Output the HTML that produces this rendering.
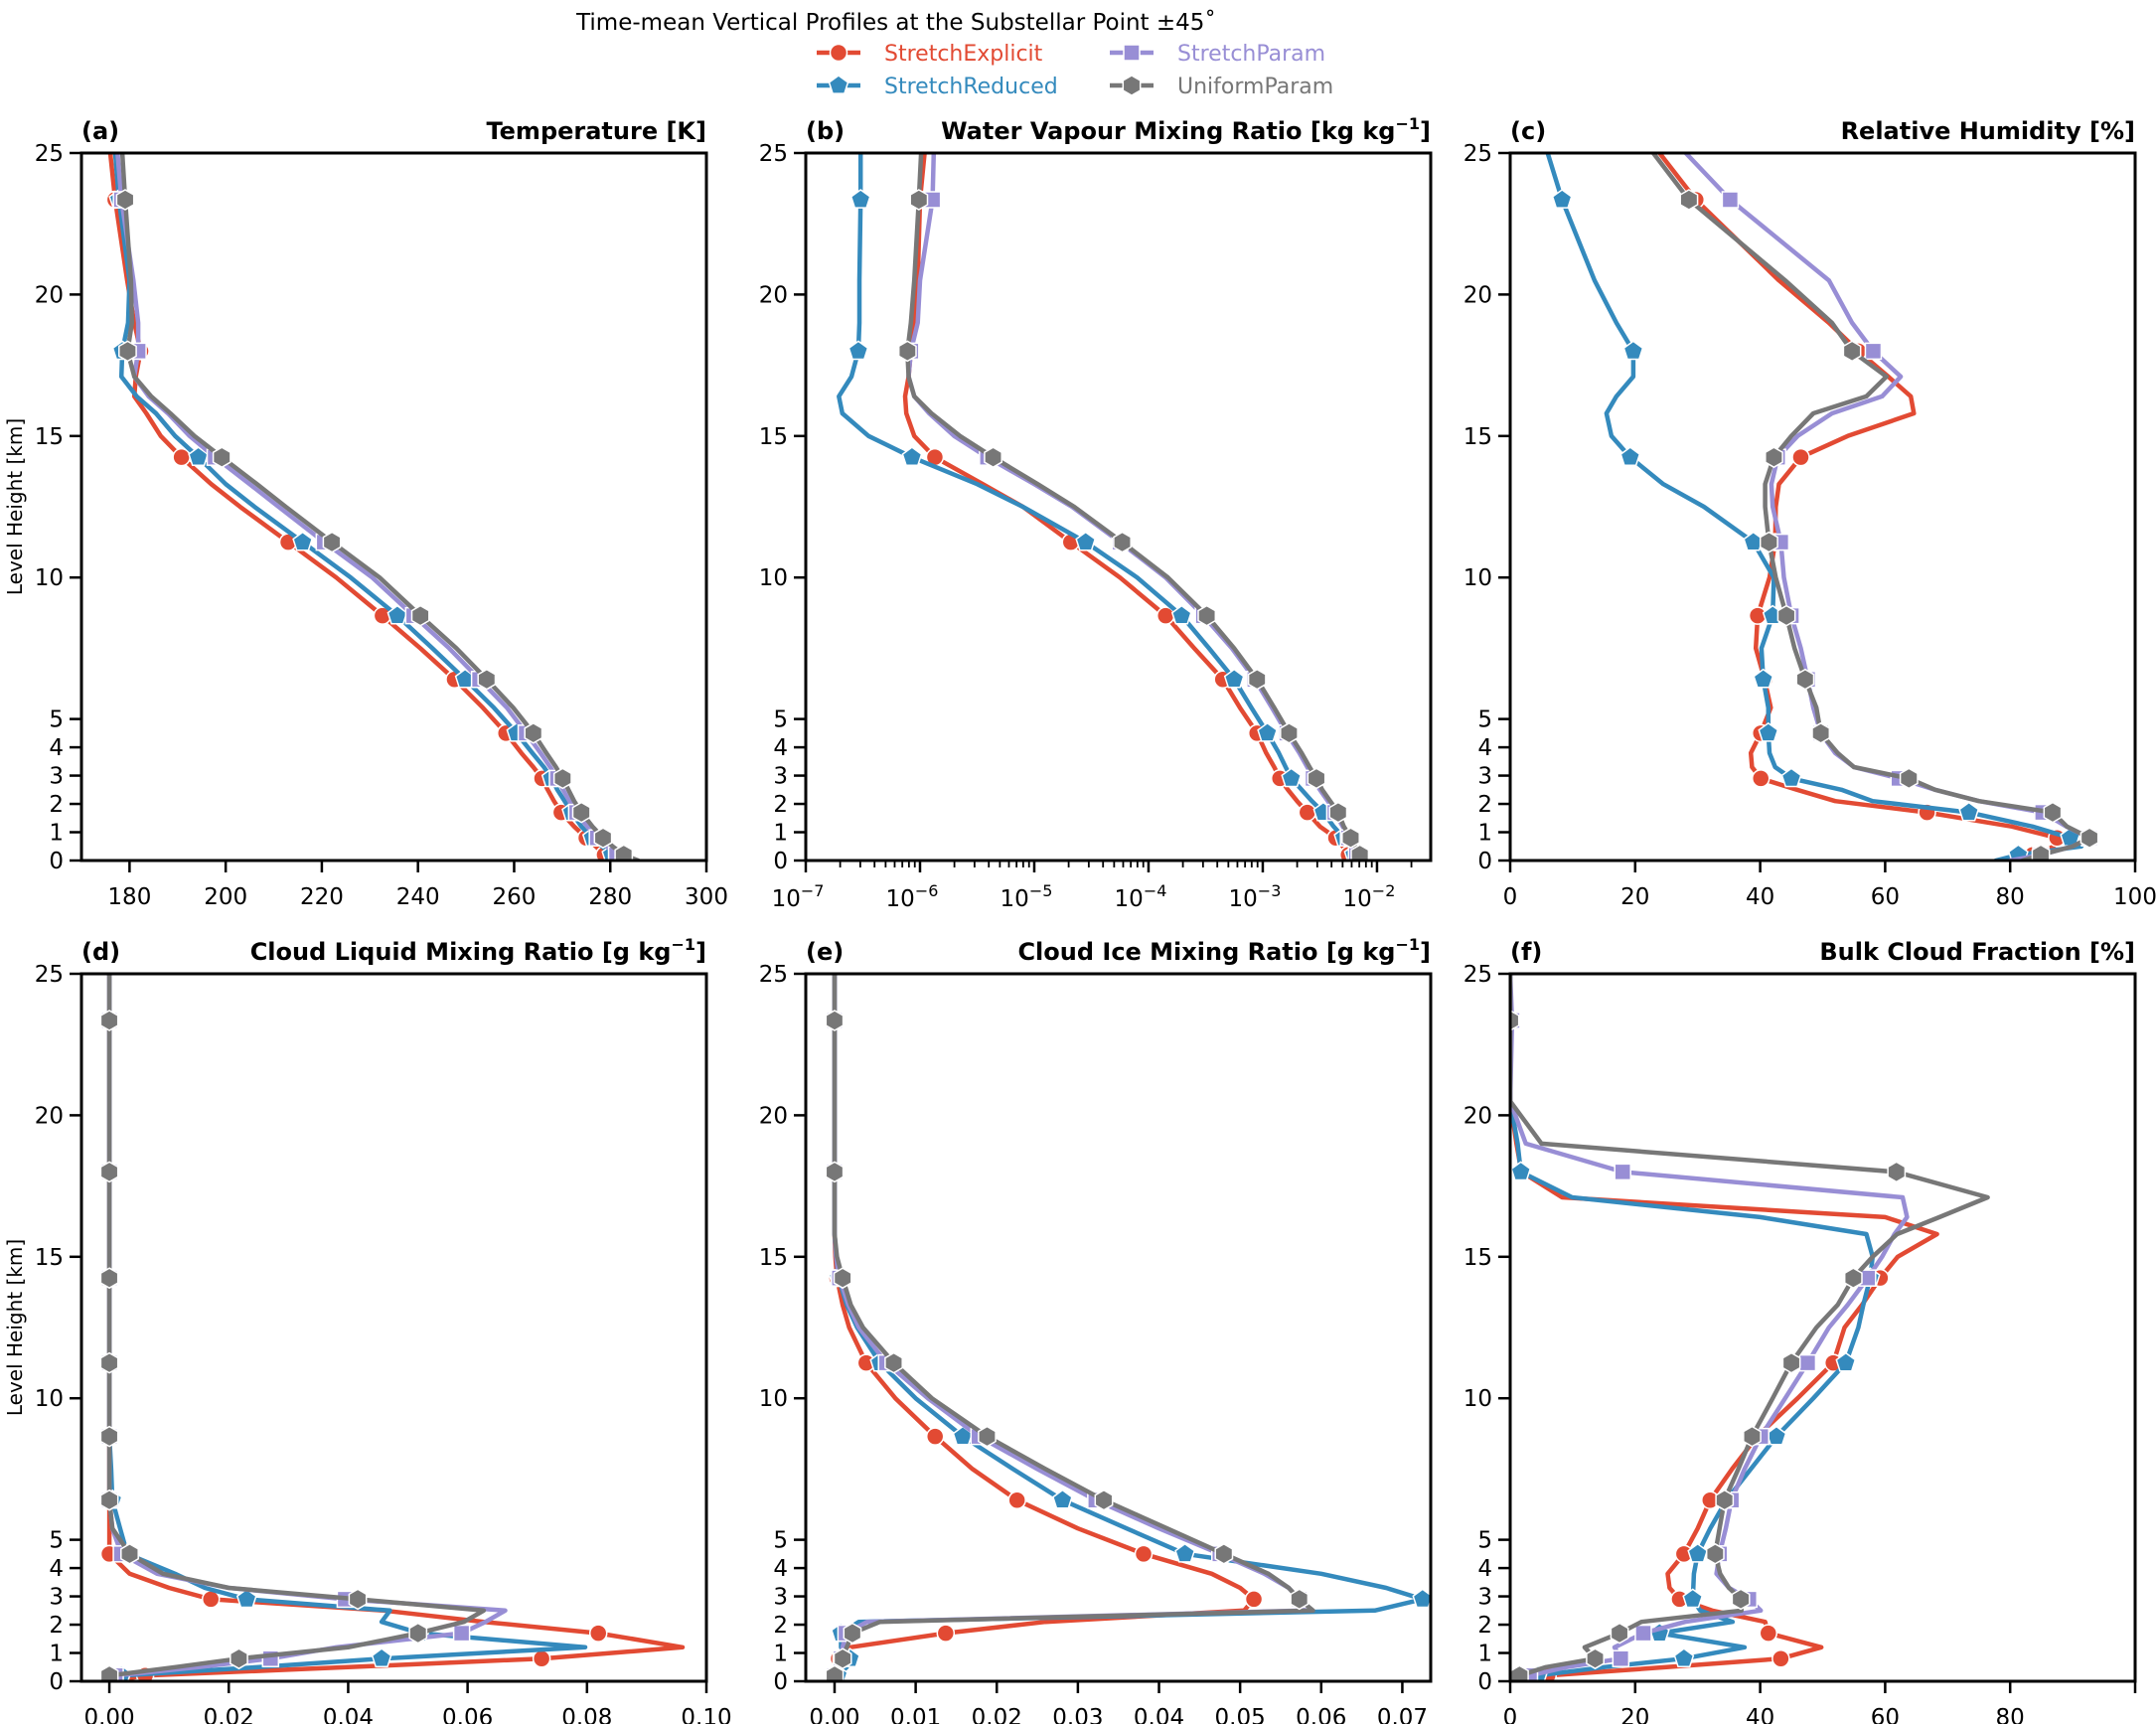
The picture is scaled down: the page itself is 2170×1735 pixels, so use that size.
<!DOCTYPE html>
<html><head><meta charset="utf-8"><style>
html,body{margin:0;padding:0;background:#fff;}
svg{display:block;font-family:"DejaVu Sans","Liberation Sans",sans-serif;}
</style></head><body>
<svg id="fig" width="2170" height="1735" viewBox="0 0 2170 1735" xmlns="http://www.w3.org/2000/svg">
<rect x="0" y="0" width="2170" height="1735" fill="#fff"/>
<text x="902" y="30" text-anchor="middle" font-size="23" fill="#000">Time-mean Vertical Profiles at the Substellar Point ±45˚</text>
<g id="legend"></g>
<g id="panels"></g>
</svg>
<script>
// shared level heights (km)
const levels = [0,0.2,0.5,0.8,1.2,1.7,2.1,2.5,2.9,3.3,3.8,4.5,5.4,6.4,7.5,8.65,10,11.25,12.5,13.3,14.25,15.0,15.8,16.4,17.1,18.0,19.0,20.5,23.35,25];
const markerIdx = [1,3,5,8,11,13,15,17,20,25,28];
const seriesNames = ["StretchExplicit","StretchReduced","StretchParam","UniformParam"];
const seriesColors = ["#E24A33","#348ABD","#988ED5","#777777"];
const seriesMarkers = ["circle","pentagon","square","hexagon"];
const yTicks = [0,1,2,3,4,5,10,15,20,25];

// (a) temperature [K]
const tempRed = [279.3,278.8,277,275,272.5,269.8,268.3,267,265.8,264,261.5,258.3,253.5,247.6,240.5,232.6,223,213,203,197,190.8,186.5,183.5,181,181.3,182.3,181,179.5,177,176];
const tempBlue = [281.3,280.3,278.3,276.3,274,272,270.5,269,267.8,266.2,263.8,260.5,255.8,249.8,243,235.7,226,216,206,200,194.3,189.5,185.5,181.5,178.3,178.5,179.7,180,177.8,177];
const tempPurple = [283,281.3,279.3,277.3,275.2,273,271.5,270.2,269,267.5,265.5,262.5,258.5,252.8,246.5,239.1,230.5,220.5,211,205,197.8,192.5,188,184,181,181.8,181.8,180.8,178.3,177.5];
const tempGray = [285.8,282.8,280.5,278.5,276.3,274,272.5,271.3,270.1,268.7,266.7,264,259.8,254.3,248,240.5,232,222.1,212.5,206.5,199.2,193.5,188.5,184.5,181,179.6,180.5,180.3,179.1,178.5];
const tempTicks = [180,200,220,240,260,280,300];

// (b) water vapour mixing ratio, log10 [kg/kg]
const wvRedLog = [-2.2,-2.25,-2.3,-2.36,-2.5,-2.61,-2.7,-2.78,-2.85,-2.9,-2.97,-3.05,-3.2,-3.35,-3.6,-3.85,-4.25,-4.68,-5.1,-5.45,-5.87,-6.05,-6.12,-6.13,-6.1,-6.08,-6.05,-6.02,-6.0,-5.96];
const wvBlueLog = [-2.17,-2.2,-2.24,-2.29,-2.38,-2.47,-2.57,-2.66,-2.75,-2.8,-2.86,-2.96,-3.1,-3.25,-3.47,-3.71,-4.1,-4.55,-5.1,-5.5,-6.07,-6.45,-6.68,-6.71,-6.6,-6.54,-6.53,-6.53,-6.52,-6.52];
const wvPurpleLog = [-2.14,-2.18,-2.21,-2.25,-2.3,-2.37,-2.43,-2.5,-2.56,-2.61,-2.68,-2.79,-2.92,-3.07,-3.27,-3.52,-3.85,-4.25,-4.67,-5.0,-5.41,-5.7,-5.92,-6.05,-6.1,-6.08,-6.02,-6.0,-5.89,-5.88];
const wvGrayLog = [-2.12,-2.15,-2.19,-2.23,-2.29,-2.34,-2.41,-2.48,-2.53,-2.59,-2.66,-2.77,-2.9,-3.05,-3.25,-3.49,-3.83,-4.23,-4.65,-4.97,-5.36,-5.65,-5.9,-6.05,-6.1,-6.11,-6.08,-6.05,-6.01,-5.99];
const wvTickExp = [-7,-6,-5,-4,-3,-2];

// (c) relative humidity [%]
const rhRed = [80,83.6,87,87.5,80.3,66.7,52,45.9,40.1,38.7,38.5,40.1,41.7,40.7,39.3,39.6,41.5,42.4,42.5,43,46.5,54,64.6,64.1,60.5,55.7,51,43,29.7,23.9];
const rhBlue = [77.7,81.3,91.4,89.6,83.6,73.4,58,53,45,42.4,41.5,41.3,41.3,40.5,40.2,42,42.2,38.9,31,24.5,19.2,16.2,15.4,17,19.7,19.7,17,13.5,8.3,6.0];
const rhPurple = [80,84.9,90,92.7,89,85.2,75,68,62.2,55,52,49.7,48.5,47.6,46.5,45,43.8,43.3,42,41.8,42.8,46,51.5,59.5,62.5,58.1,54.7,51,35.2,28.1];
const rhGray = [82,84.9,90,92.7,89.1,86.8,75,68,63.8,55,52.4,49.7,49,47.2,45.5,44.2,42.5,41.4,40.8,40.8,42.2,45,48.5,57,60.2,54.7,51.5,44,28.6,22.9];
const pctTicks = [0,20,40,60,80,100];

// (d) cloud liquid [g/kg]
const clRed = [0,0.006,0.04,0.0724,0.096,0.0819,0.0627,0.046,0.017,0.01,0.0034,0,0,0,0,0,0,0,0,0,0,0,0,0,0,0,0,0,0,0];
const clBlue = [0.002,0.002,0.025,0.0456,0.0797,0.052,0.0456,0.047,0.023,0.016,0.011,0.003,0.0018,0.0005,0.0003,0,0,0,0,0,0,0,0,0,0,0,0,0,0,0];
const clPurple = [0,0.001,0.015,0.027,0.038,0.059,0.063,0.0663,0.0395,0.02,0.008,0.002,0.0005,0,0,0,0,0,0,0,0,0,0,0,0,0,0,0,0,0];
const clGray = [0,0,0.011,0.0217,0.04,0.0517,0.0594,0.0627,0.0416,0.02,0.009,0.0034,0.0005,0,0,0,0,0,0,0,0,0,0,0,0,0,0,0,0,0];
const clTicks = [0,0.02,0.04,0.06,0.08,0.10];

// (e) cloud ice [g/kg]
const ciRed = [0,0.0001,0.0003,0.0005,0.0019,0.0137,0.026,0.0505,0.0517,0.05,0.0465,0.0381,0.03,0.0225,0.017,0.0124,0.0075,0.0039,0.0018,0.001,0.0003,0.0001,0,0,0,0,0,0,0,0];
const ciBlue = [0.0004,0.0004,0.0015,0.0019,0.0008,0.0008,0.003,0.0666,0.0725,0.068,0.06,0.0432,0.036,0.0281,0.022,0.0158,0.01,0.0056,0.0028,0.0015,0.0005,0.0002,0,0,0,0,0,0,0,0];
const ciPurple = [0,0,0.0005,0.0008,0.001,0.0014,0.004,0.058,0.0573,0.056,0.053,0.0475,0.04,0.0322,0.025,0.0178,0.0115,0.0064,0.003,0.0017,0.0006,0.0002,0,0,0,0,0,0,0,0];
const ciGray = [0,0,0.0005,0.001,0.0015,0.0022,0.0056,0.059,0.0573,0.056,0.0535,0.048,0.041,0.0332,0.026,0.0188,0.012,0.0073,0.0035,0.002,0.001,0.0003,0,0,0,0,0,0,0,0];
const ciTicks = [0,0.01,0.02,0.03,0.04,0.05,0.06,0.07];

// (f) bulk cloud fraction [%]
const cfRed = [4,6,25,43.3,49.8,41.3,40.8,32.3,27.1,25.5,25.2,27.8,30,32,35.5,39.5,46,51.7,53.5,56.3,59.2,62,68.3,60,8.3,1.8,1,0,0,0];
const cfBlue = [4,4.4,15,27.8,37.5,23.9,35.6,30.4,29.2,29.3,29.4,30,32,34.6,38.5,42.6,48.5,53.7,55.7,56.5,57.6,58,57,40,9.9,1.7,1.2,0,0,0];
const cfPurple = [1,3.1,9,17.7,16.7,21.3,28,40.1,38.2,35,33,33.5,34.5,35.4,37.5,40.1,44,47.6,51,54,57.2,59.5,61.5,63.5,62.8,18,2.5,0,0.3,0];
const cfGray = [0,1.5,5.7,13.6,11.9,17.5,21,37,36.9,35,33.6,32.8,33.5,34.3,36.5,38.7,42,45,49,52.4,54.9,58,61.9,68.7,76.4,61.8,5,0,0,0];
const cfTicks = [0,20,40,60,80,100];

const NS = "http://www.w3.org/2000/svg";
function mk(tag, attrs, parent){ const e=document.createElementNS(NS,tag); for(const k in attrs) e.setAttribute(k,attrs[k]); if(parent) parent.appendChild(e); return e; }

const PW=629, PH=712;
const panels = [
 {id:"a",tag:"(a)",title:"Temperature [K]",sup:"",x0:82,y0:154,xmin:170,xmax:300,log:false,ticks:tempTicks,fmt:v=>String(v),data:[tempRed,tempBlue,tempPurple,tempGray]},
 {id:"b",tag:"(b)",title:"Water Vapour Mixing Ratio [kg kg",sup:"−1",x0:811,y0:154,xmin:-7,xmax:-1.53,log:true,ticks:wvTickExp,fmt:null,data:[wvRedLog,wvBlueLog,wvPurpleLog,wvGrayLog]},
 {id:"c",tag:"(c)",title:"Relative Humidity [%]",sup:"",x0:1520,y0:154,xmin:0,xmax:100,log:false,ticks:pctTicks,fmt:v=>String(v),data:[rhRed,rhBlue,rhPurple,rhGray]},
 {id:"d",tag:"(d)",title:"Cloud Liquid Mixing Ratio [g kg",sup:"−1",x0:82,y0:980,xmin:-0.00467,xmax:0.1,log:false,ticks:clTicks,fmt:v=>v.toFixed(2),data:[clRed,clBlue,clPurple,clGray]},
 {id:"e",tag:"(e)",title:"Cloud Ice Mixing Ratio [g kg",sup:"−1",x0:811,y0:980,xmin:-0.00355,xmax:0.0735,log:false,ticks:ciTicks,fmt:v=>v.toFixed(2),data:[ciRed,ciBlue,ciPurple,ciGray]},
 {id:"f",tag:"(f)",title:"Bulk Cloud Fraction [%]",sup:"",x0:1520,y0:980,xmin:0,xmax:100,log:false,ticks:cfTicks,fmt:v=>(v===100?"":String(v)),data:[cfRed,cfBlue,cfPurple,cfGray]}
];

function markerShape(type, cx, cy, color, parent){
  let el;
  if(type==="circle"){ el=mk("circle",{cx:cx,cy:cy,r:8.5,fill:color,stroke:"#fff","stroke-width":1.5},parent); }
  else if(type==="square"){ el=mk("rect",{x:cx-8,y:cy-8,width:16,height:16,fill:color,stroke:"#fff","stroke-width":1.5},parent); }
  else {
    const n = type==="pentagon"?5:6, r = type==="pentagon"?10:10;
    const pts=[];
    for(let i=0;i<n;i++){ const a=-Math.PI/2+i*2*Math.PI/n; pts.push((cx+r*Math.cos(a)).toFixed(1)+","+(cy+r*Math.sin(a)).toFixed(1)); }
    el=mk("polygon",{points:pts.join(" "),fill:color,stroke:"#fff","stroke-width":1.5},parent);
  }
  return el;
}

const root=document.getElementById("panels");
panels.forEach(p=>{
  const g=mk("g",{},root);
  
  
  const xs = v => p.x0 + (v - p.xmin)/(p.xmax-p.xmin)*PW;
  const ys = z => p.y0 + PH - z/25*PH;
  const clipId="clip"+p.id;
  const cp=mk("clipPath",{id:clipId},g); mk("rect",{x:p.x0,y:p.y0,width:PW,height:PH},cp);
  // series
  const sg=mk("g",{"clip-path":"url(#"+clipId+")"},g);
  p.data.forEach((arr,si)=>{
    const pts=arr.map((v,i)=>xs(v).toFixed(1)+","+ys(levels[i]).toFixed(1)).join(" ");
    const line=mk("polyline",{points:pts,fill:"none",stroke:seriesColors[si],"stroke-width":4.5,"stroke-linejoin":"round","stroke-linecap":"round"},sg);
    
    
    markerIdx.forEach(i=>{
      const m=markerShape(seriesMarkers[si], xs(arr[i]), ys(levels[i]), seriesColors[si], sg);
      
      
    });
  });
  // frame
  const fr=mk("rect",{x:p.x0,y:p.y0,width:PW,height:PH,fill:"none",stroke:"#000","stroke-width":3},g);
  
  
  // y ticks
  yTicks.forEach(t=>{
    const y=ys(t);
    mk("line",{x1:p.x0-12,x2:p.x0,y1:y,y2:y,stroke:"#000","stroke-width":2.5},g);
    const tl=mk("text",{x:p.x0-18,y:y+8,"text-anchor":"end","font-size":23,fill:"#000"},g);
    tl.textContent=String(t);
    
    
  });
  // x ticks
  const yb=p.y0+PH;
  if(p.log){
    for(let e=-7;e<=-2;e++){
      for(let k=2;k<=9;k++){ const lv=e+Math.log10(k); if(lv<p.xmax) mk("line",{x1:xs(lv),x2:xs(lv),y1:yb,y2:yb+7,stroke:"#000","stroke-width":1.8},g); }
    }
    p.ticks.forEach(e=>{
      const x=xs(e);
      mk("line",{x1:x,x2:x,y1:yb,y2:yb+12,stroke:"#000","stroke-width":2.5},g);
      const tl=mk("text",{x:x-8,y:yb+46,"text-anchor":"middle","font-size":23,fill:"#000"},g);
      
      
      tl.appendChild(document.createTextNode("10"));
      const sp=mk("tspan",{dy:-10,"font-size":16},tl); sp.textContent=String(e).replace("-","−");
    });
  } else {
    p.ticks.forEach(t=>{
      const x=xs(t);
      mk("line",{x1:x,x2:x,y1:yb,y2:yb+12,stroke:"#000","stroke-width":2.5},g);
      const tl=mk("text",{x:x,y:yb+44,"text-anchor":"middle","font-size":23,fill:"#000"},g);
      tl.textContent=p.fmt(t);
      
      
    });
  }
  // titles
  const tg=mk("text",{x:p.x0,y:p.y0-14,"font-size":24,"font-weight":"bold",fill:"#000"},g);
  tg.textContent=p.tag;
  
  
  const tt=mk("text",{x:p.x0+PW,y:p.y0-14,"font-size":24,"font-weight":"bold","text-anchor":"end",fill:"#000"},g);
  
  
  tt.appendChild(document.createTextNode(p.title));
  if(p.sup){ const s=mk("tspan",{dy:-10,"font-size":16},tt); s.textContent=p.sup; const s2=mk("tspan",{dy:10},tt); s2.textContent="]"; }
  // y label for left column
  if(p.id==="a"||p.id==="d"){
    const cy=p.y0+PH/2;
    const yl=mk("text",{x:0,y:0,transform:"translate(22,"+cy+") rotate(-90)","text-anchor":"middle","font-size":20,fill:"#000"},g);
    yl.textContent="Level Height [km]";
    
    
  }
});

// legend
const lg=document.getElementById("legend");
const legPos=[[844,53],[844,86],[1139,53],[1139,86]];
const legOrder=[0,1,2,3];
legOrder.forEach(si=>{
  const [cx,cy]=legPos[si===0?0:si===1?1:si===2?2:3];
  const eg=mk("g",{},lg);
  
  
  mk("line",{x1:cx-22,x2:cx+22,y1:cy,y2:cy,stroke:seriesColors[si],"stroke-width":4.5},eg);
  markerShape(seriesMarkers[si],cx,cy,seriesColors[si],eg);
  const t=mk("text",{x:cx+46,y:cy+8,"font-size":22,fill:seriesColors[si]},eg);
  t.textContent=seriesNames[si];
});
</script>
</body></html>
